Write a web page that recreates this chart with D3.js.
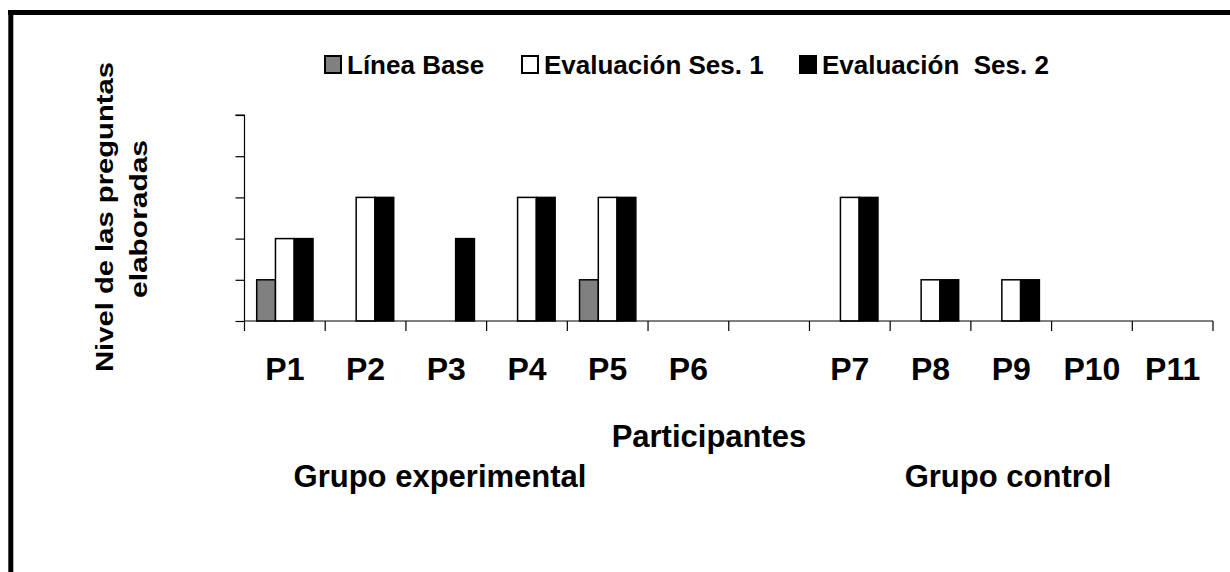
<!DOCTYPE html>
<html>
<head>
<meta charset="utf-8">
<script src="https://cdn.jsdelivr.net/npm/d3@7"></script>
<style>
  html, body { margin: 0; padding: 0; background: #fff; }
  svg { display: block; }
  text { font-family: "Liberation Sans", Arial, sans-serif; font-weight: bold; fill: #000; }
</style>
</head>
<body>
<svg id="chart" width="1230" height="572"></svg>
<script>
// ---- data ----
const categories = ["P1", "P2", "P3", "P4", "P5", "P6", "", "P7", "P8", "P9", "P10", "P11"];
const seriesNames = ["Línea Base", "Evaluación Ses. 1", "Evaluación  Ses. 2"];
const lineaBase = [1, 0, 0, 0, 1, 0, null, 0, 0, 0, 0, 0];
const sesion1   = [2, 3, 0, 3, 3, 0, null, 3, 1, 1, 0, 0];
const sesion2   = [2, 3, 2, 3, 3, 0, null, 3, 1, 1, 0, 0];
const yTicks = [0, 1, 2, 3, 4, 5];
const seriesColors = ["#808080", "#ffffff", "#000000"];
const yTitleLines = ["Nivel de las preguntas", "elaboradas"];
const xTitle = "Participantes";
const groupLabels = ["Grupo experimental", "Grupo control"];

const seriesValues = [lineaBase, sesion1, sesion2];

const svg = d3.select("#chart");

// frame (top and left visible edges)
svg.append("line").attr("x1", 8).attr("x2", 1230).attr("y1", 12.5).attr("y2", 12.5)
  .attr("stroke", "#000").attr("stroke-width", 5);
svg.append("line").attr("x1", 10.8).attr("x2", 10.8).attr("y1", 10).attr("y2", 572)
  .attr("stroke", "#000").attr("stroke-width", 5);

// scales
const x0 = d3.scaleBand().domain(categories).range([244.5, 1213]).padding(0);
const x1 = d3.scaleBand().domain(seriesNames).range([0, x0.bandwidth()])
  .paddingInner(0).paddingOuter(0.65);
const y = d3.scaleLinear().domain([0, 5]).range([321, 115]);

// bars
const rows = [];
categories.forEach((c, i) => {
  seriesNames.forEach((s, j) => {
    const v = seriesValues[j][i];
    if (v != null && v > 0) rows.push({ c, s, v, j });
  });
});
svg.append("g").selectAll("rect").data(rows).join("rect")
  .attr("x", d => x0(d.c) + x1(d.s))
  .attr("y", d => y(d.v))
  .attr("width", x1.bandwidth())
  .attr("height", d => y(0) - y(d.v))
  .attr("fill", d => seriesColors[d.j])
  .attr("stroke", "#000")
  .attr("stroke-width", 1.5);

// y axis
const yAxis = d3.axisLeft(y).tickValues(yTicks).tickSize(9).tickFormat("");
const gy = svg.append("g").attr("transform", "translate(244.5,0)").call(yAxis);
gy.select(".domain").attr("stroke", "#000").attr("stroke-width", 1.2).attr("d", `M-9,${y(5)}H0V${y(0)}`);
gy.selectAll(".tick line").attr("stroke", "#000").attr("stroke-width", 1.2);

// x axis with ticks at band boundaries
const boundaries = categories.map(c => x0(c)).concat([x0.range()[1]]);
const gx = svg.append("g");
gx.append("line").attr("x1", 244.5).attr("x2", 1213).attr("y1", y(0)).attr("y2", y(0))
  .attr("stroke", "#000").attr("stroke-width", 1.2);
gx.selectAll("line.t").data(boundaries).join("line").attr("class", "t")
  .attr("x1", d => d).attr("x2", d => d).attr("y1", y(0)).attr("y2", y(0) + 10)
  .attr("stroke", "#000").attr("stroke-width", 1.2);

// category labels
svg.append("g").selectAll("text").data(categories.filter(c => c !== "")).join("text")
  .attr("x", d => x0(d) + x0.bandwidth() / 2)
  .attr("y", 380)
  .attr("text-anchor", "middle")
  .style("font-size", "32px")
  .text(d => d);

// x title and group labels
svg.append("text").attr("x", 709).attr("y", 447).attr("text-anchor", "middle")
  .style("font-size", "31px").text(xTitle);
svg.append("text").attr("x", 440).attr("y", 487).attr("text-anchor", "middle")
  .style("font-size", "31px").text(groupLabels[0]);
svg.append("text").attr("x", 1008).attr("y", 487).attr("text-anchor", "middle")
  .style("font-size", "31px").text(groupLabels[1]);

// y title (two lines)
const yTitlePos = [{ x: 113, cy: 217, len: 310 }, { x: 147, cy: 219, len: 158 }];
yTitleLines.forEach((t, i) => {
  const p = yTitlePos[i];
  svg.append("text")
    .attr("transform", `translate(${p.x},${p.cy}) rotate(-90)`)
    .attr("text-anchor", "middle")
    .style("font-size", "24px")
    .attr("textLength", p.len)
    .attr("lengthAdjust", "spacingAndGlyphs")
    .text(t);
});

// legend
const legendX = [325, 522, 800];
const lg = svg.append("g");
seriesNames.forEach((s, j) => {
  lg.append("rect").attr("x", legendX[j]).attr("y", 56).attr("width", 16).attr("height", 17)
    .attr("fill", seriesColors[j]).attr("stroke", "#000").attr("stroke-width", 2);
  lg.append("text").attr("x", legendX[j] + 22).attr("y", 73.5)
    .style("font-size", "26px").style("white-space", "pre").text(s);
});
</script>
</body>
</html>
